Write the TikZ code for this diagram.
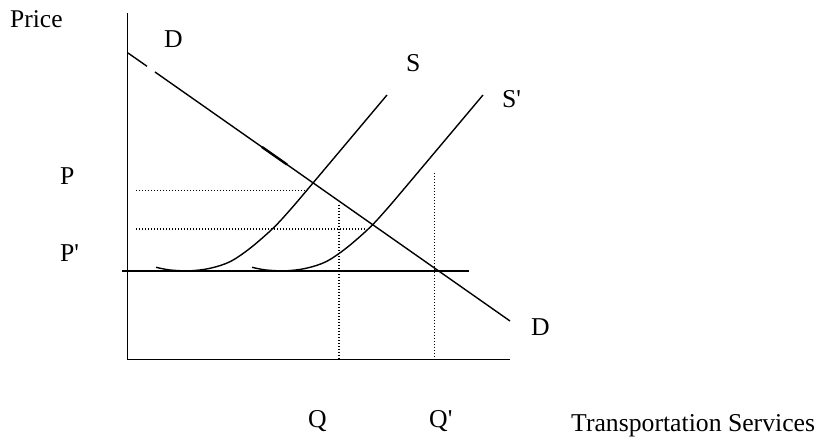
\documentclass[tikz,border=0pt]{standalone}
\usepackage{fontspec}
\newfontfamily\tnr{Liberation Serif}
\begin{document}
\begin{tikzpicture}[x=1pt,y=-1pt,
  curve/.style={line width=1.4pt},
  axisline/.style={line width=1.5pt},
  dotline/.style={line width=1.1pt,dash pattern=on 1.1pt off 1.9pt},
  lbl/.style={anchor=base west,inner sep=0pt,font=\tnr\fontsize{25.7}{30}\selectfont},
  smalllbl/.style={anchor=base west,inner sep=0pt,font=\tnr\fontsize{25.5}{30}\selectfont}]
\useasboundingbox (0,0) rectangle (819,443);
% coordinates
\coordinate (ytop) at (127.5,13);
\coordinate (origin) at (127.5,359.5);
\coordinate (xend) at (510,359.5);
\coordinate (hl) at (122,271);
\coordinate (hr) at (469,271);
\coordinate (d1) at (128,53);
\coordinate (d2) at (147,66.3);
\coordinate (d3) at (155,72);
\coordinate (d4) at (510,321);
\coordinate (dk1) at (262,147);
\coordinate (dk2) at (287,164.5);
\coordinate (pa) at (136,190.7);
\coordinate (pb) at (307,190.7);
\coordinate (pc) at (136,229);
\coordinate (pd) at (366,229);
\coordinate (qa) at (339,205);
\coordinate (qb) at (339,359.5);
\coordinate (qc) at (434.7,173);
\coordinate (qd) at (434.7,359.5);
% axes
\draw[axisline] (ytop) -- (origin) -- (xend);
\draw[axisline] (hl) -- (hr);
% demand
\draw[curve] (d1) -- (d2);
\draw[curve] (d3) -- (d4);
\draw[line width=2.4pt] (dk1) -- (dk2);
% supply curves
\draw[curve] plot[smooth,tension=0.55] coordinates {(156,267.3) (170,270) (190,270.8) (210,268.3) (230,261.7) (250,248.3) (273,228.3) (290,210) (313,183) (387,95)};
\draw[curve,xshift=96pt] plot[smooth,tension=0.55] coordinates {(156,267.3) (170,270) (190,270.8) (210,268.3) (230,261.7) (250,248.3) (273,228.3) (290,210) (313,183) (387,95)};
% dotted
\draw[dotline] (pa) -- (pb);
\draw[dotline] (pc) -- (pd);
\draw[dotline] (qa) -- (qb);
\draw[dotline] (qc) -- (qd);
% labels
\node[smalllbl] (price) at (10,27.7) {Price};
\node[lbl] (dtop) at (164,48) {D};
\node[lbl] (slab) at (406,72) {S};
\node[lbl] (sp) at (502,108) {S'};
\node[lbl] (plab) at (60,185) {P};
\node[lbl] (pp) at (60,262) {P'};
\node[lbl] (dbot) at (531,336) {D};
\node[lbl] (qlab) at (308,427) {Q};
\node[lbl] (qp) at (429,427) {Q'};
\node[lbl] (ts) at (571,431.5) {Transportation Services};
\end{tikzpicture}
\end{document}
